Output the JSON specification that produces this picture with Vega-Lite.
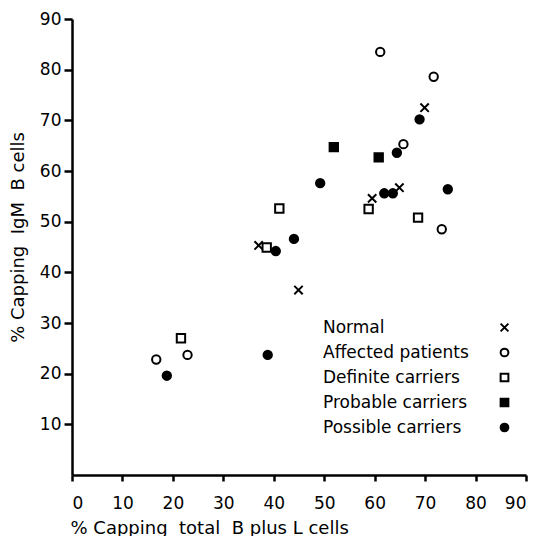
{
  "$schema": "https://vega.github.io/schema/vega-lite/v6.json",
  "width": 454,
  "height": 456,
  "autosize": {"type": "none"},
  "padding": {"left": 72, "top": 19, "right": 13, "bottom": 61},
  "background": "white",
  "config": {
    "view": {"stroke": null},
    "font": "DejaVu Sans",
    "axis": {
      "grid": false,
      "domainColor": "black",
      "domainWidth": 2.5,
      "tickColor": "black",
      "tickWidth": 2.5,
      "labelFont": "DejaVu Sans",
      "labelFontSize": 17,
      "labelColor": "black",
      "titleFont": "DejaVu Sans",
      "titleFontSize": 18,
      "titleFontWeight": "normal",
      "titleColor": "black"
    },
    "legend": {
      "labelFont": "DejaVu Sans",
      "labelFontSize": 17,
      "labelColor": "black",
      "title": null,
      "orient": "none",
      "legendX": 246,
      "legendY": 300,
      "padding": 0,
      "symbolSize": 60,
      "symbolStrokeColor": "black",
      "symbolStrokeWidth": 2,
      "symbolOffset": 178,
      "labelOffset": -190,
      "rowPadding": 7,
      "labelLimit": 300
    }
  },
  "data": {
    "values": [
      {"group": "Normal", "totalB": 37.0, "igmB": 45.3},
      {"group": "Normal", "totalB": 44.9, "igmB": 36.5},
      {"group": "Normal", "totalB": 59.5, "igmB": 54.6},
      {"group": "Normal", "totalB": 64.9, "igmB": 56.7},
      {"group": "Normal", "totalB": 69.9, "igmB": 72.5},
      {"group": "Affected patients", "totalB": 61.1, "igmB": 83.5},
      {"group": "Affected patients", "totalB": 71.7, "igmB": 78.6},
      {"group": "Affected patients", "totalB": 65.7, "igmB": 65.3},
      {"group": "Affected patients", "totalB": 73.3, "igmB": 48.5},
      {"group": "Affected patients", "totalB": 16.7, "igmB": 22.8},
      {"group": "Affected patients", "totalB": 22.9, "igmB": 23.7},
      {"group": "Definite carriers", "totalB": 38.6, "igmB": 44.9},
      {"group": "Definite carriers", "totalB": 41.1, "igmB": 52.6},
      {"group": "Definite carriers", "totalB": 58.8, "igmB": 52.5},
      {"group": "Definite carriers", "totalB": 68.6, "igmB": 50.8},
      {"group": "Definite carriers", "totalB": 21.6, "igmB": 27.0},
      {"group": "Probable carriers", "totalB": 51.9, "igmB": 64.7},
      {"group": "Probable carriers", "totalB": 60.8, "igmB": 62.7},
      {"group": "Possible carriers", "totalB": 68.9, "igmB": 70.2},
      {"group": "Possible carriers", "totalB": 64.4, "igmB": 63.6},
      {"group": "Possible carriers", "totalB": 61.9, "igmB": 55.6},
      {"group": "Possible carriers", "totalB": 63.6, "igmB": 55.6},
      {"group": "Possible carriers", "totalB": 74.5, "igmB": 56.4},
      {"group": "Possible carriers", "totalB": 49.2, "igmB": 57.6},
      {"group": "Possible carriers", "totalB": 44.0, "igmB": 46.6},
      {"group": "Possible carriers", "totalB": 40.4, "igmB": 44.2},
      {"group": "Possible carriers", "totalB": 18.8, "igmB": 19.6},
      {"group": "Possible carriers", "totalB": 38.8, "igmB": 23.7}
    ]
  },
  "mark": {
    "type": "point",
    "strokeWidth": 2,
    "size": 70,
    "opacity": 1,
    "fillOpacity": 1,
    "strokeOpacity": 1
  },
  "encoding": {
    "x": {
      "field": "totalB",
      "type": "quantitative",
      "scale": {"domain": [0, 90], "nice": false},
      "axis": {
        "values": [0, 10, 20, 30, 40, 50, 60, 70, 80, 90],
        "tickSize": 6,
        "labelPadding": 14,
        "title": "% Capping\u00a0 total\u00a0 B plus L cells",
        "titleX": -2,
        "titleY": 58,
        "titleAlign": "left",
        "titleBaseline": "alphabetic"
      }
    },
    "y": {
      "field": "igmB",
      "type": "quantitative",
      "scale": {"domain": [0, 90], "nice": false},
      "axis": {
        "values": [10, 20, 30, 40, 50, 60, 70, 80, 90],
        "tickSize": 8,
        "labelPadding": 3,
        "title": "% Capping\u00a0 IgM\u00a0 B cells",
        "titleX": -54,
        "titleY": 218,
        "titleAlign": "center",
        "titleBaseline": "middle",
        "titleAngle": -90
      }
    },
    "shape": {
      "field": "group",
      "type": "nominal",
      "scale": {
        "domain": ["Normal", "Affected patients", "Definite carriers", "Probable carriers", "Possible carriers"],
        "range": ["M-1,-1L1,1M-1,1L1,-1", "circle", "square", "square", "circle"]
      }
    },
    "fill": {
      "field": "group",
      "type": "nominal",
      "scale": {
        "domain": ["Normal", "Affected patients", "Definite carriers", "Probable carriers", "Possible carriers"],
        "range": ["white", "white", "white", "black", "black"]
      }
    },
    "stroke": {
      "field": "group",
      "type": "nominal",
      "scale": {
        "domain": ["Normal", "Affected patients", "Definite carriers", "Probable carriers", "Possible carriers"],
        "range": ["black", "black", "black", "black", "black"]
      }
    }
  }
}
